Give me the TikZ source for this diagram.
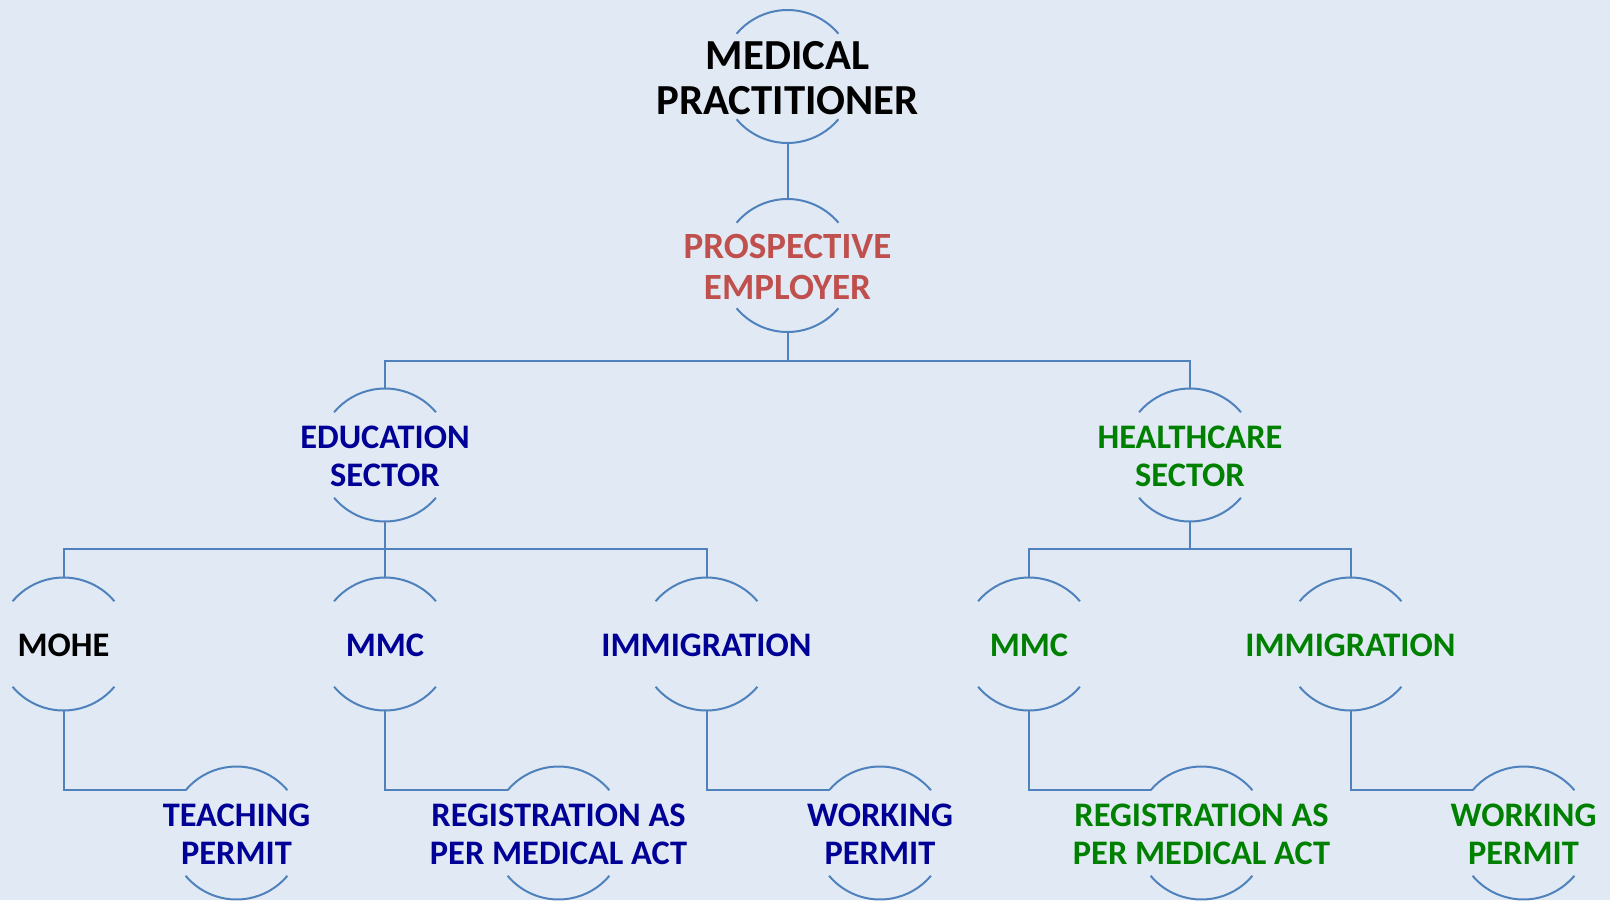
\documentclass[tikz,border=0pt]{standalone}
\usepackage{fontspec}
\setmainfont{Carlito}
\usetikzlibrary{calc}
\definecolor{bgblue}{RGB}{225,234,244}
\definecolor{lineblue}{RGB}{79,129,189}
\definecolor{navy}{RGB}{0,0,150}
\definecolor{leafgreen}{RGB}{0,128,0}
\definecolor{empred}{RGB}{192,80,77}
\tikzset{
  bubble/.style={circle, minimum size=66.5pt, inner sep=0pt, outer sep=0pt},
  txt/.style={align=center, yshift=-0.75pt, font=\bfseries\fontsize{17.2}{19.1}\selectfont},
  bigtxt/.style={align=center, yshift=-0.75pt, font=\bfseries\fontsize{21.4}{22.8}\selectfont},
  link/.style={draw=lineblue, line width=1pt},
}

\begin{document}
\begin{tikzpicture}[x=0.5pt, y=-0.5pt]
        \fill[bgblue] (0,0) rectangle (1610,900);
        \useasboundingbox (0,0) rectangle (1610,900);

        \node[bubble, label={[bigtxt, text=black]center:MEDICAL\\PRACTITIONER}] (doc) at (787.5,76.5) {};
        \node[bubble, label={[bigtxt, font=\bfseries\fontsize{18.5}{20.3}\selectfont, text=empred]center:PROSPECTIVE\\EMPLOYER}] (emp) at (787.5,265.5) {};

        \node[bubble, label={[txt, text=navy]center:EDUCATION\\SECTOR}] (edu) at (385,455) {};
        \node[bubble, label={[txt, text=leafgreen]center:HEALTHCARE\\SECTOR}] (hc) at (1190,455) {};

        \node[bubble, label={[txt, text=black]center:MOHE}] (mohe) at (63.5,644) {};
        \node[bubble, label={[txt, text=navy]center:MMC}] (mmcE) at (385,644) {};
        \node[bubble, label={[txt, text=navy]center:IMMIGRATION}] (immE) at (706.5,644) {};
        \node[bubble, label={[txt, text=leafgreen]center:MMC}] (mmcH) at (1029,644) {};
        \node[bubble, label={[txt, text=leafgreen]center:IMMIGRATION}] (immH) at (1350.5,644) {};

        \node[bubble, label={[txt, text=navy]center:TEACHING\\PERMIT}] (teach) at (236.5,833) {};
        \node[bubble, label={[txt, text=navy]center:REGISTRATION AS\\PER MEDICAL ACT}] (regE) at (558.5,833) {};
        \node[bubble, label={[txt, text=navy]center:WORKING\\PERMIT}] (workE) at (880,833) {};
        \node[bubble, label={[txt, text=leafgreen]center:REGISTRATION AS\\PER MEDICAL ACT}] (regH) at (1201.5,833) {};
        \node[bubble, label={[txt, text=leafgreen]center:WORKING\\PERMIT}] (workH) at (1523.5,833) {};

        \foreach \n in {doc,emp,edu,hc,mohe,mmcE,immE,mmcH,immH,teach,regE,workE,regH,workH}{
            \draw[link] (\n.40) arc[start angle=40, end angle=140, radius=33.25pt];
            \draw[link] (\n.220) arc[start angle=220, end angle=320, radius=33.25pt];
        }

        \draw[link] (doc.south) -- (emp.north);
        \draw[link] (emp.south) -- ++(0,28.5) -| (edu.north);
        \draw[link] (emp.south) -- ++(0,28.5) -| (hc.north);
        \foreach \c in {mohe,mmcE,immE}
            \draw[link] (edu.south) -- ++(0,27.5) -| (\c.north);
        \foreach \c in {mmcH,immH}
            \draw[link] (hc.south) -- ++(0,27.5) -| (\c.north);

        \draw[link] (mohe.south) |- (teach.140);
        \draw[link] (mmcE.south) |- (regE.140);
        \draw[link] (immE.south) |- (workE.140);
        \draw[link] (mmcH.south) |- (regH.140);
        \draw[link] (immH.south) |- (workH.140);
\end{tikzpicture}
\end{document}
